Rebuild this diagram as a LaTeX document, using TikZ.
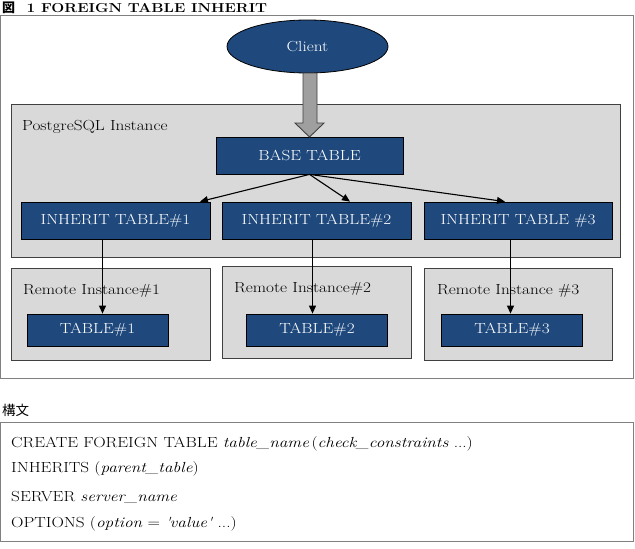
\documentclass[tikz,border=0pt]{standalone}
\usepackage{fontspec}
\setmainfont{Latin Modern Roman}[FakeStretch=1.18]
\newfontfamily\cjk{Noto Sans CJK JP}
\usetikzlibrary{arrows.meta,calc,shapes.geometric}
\definecolor{dblue}{HTML}{1F497D}
\definecolor{lgray}{HTML}{D9D9D9}
\definecolor{bord}{HTML}{404040}
\newcommand\txtsize{\fontsize{14.6}{17}\selectfont}
\tikzset{
  bluebox/.style={draw=black,line width=0.8pt,fill=dblue,text=white,font=\txtsize,inner sep=0pt},
  graybox/.style={draw=bord,line width=0.9pt,fill=lgray},
  lbl/.style={anchor=base west,font=\txtsize,inner sep=0pt},
  arr/.style={line width=1.1pt,-{Triangle[length=8pt,width=7pt]}},
  syn/.style={anchor=base west,font=\txtsize,inner sep=0pt}
}
\begin{document}
\begin{tikzpicture}[x=1pt,y=-1pt]
\useasboundingbox (0,0) rectangle (635,549);
% title
\node[anchor=base west,inner sep=0pt,font=\fontsize{13}{15}\selectfont\bfseries] (title) at (2,12) {{\cjk 図}\ \ 1 FOREIGN TABLE INHERIT};
% outer frame
\draw[draw=gray,line width=0.9pt] (0.5,15) rectangle (633,378);
% PostgreSQL instance
\draw[graybox] (11,104) rectangle (620,257);
\node[lbl] (pglbl) at (22,130) {PostgreSQL Instance};
% remote instances
\draw[graybox] (11,268) rectangle (210,360);
\draw[graybox] (222,266) rectangle (411,358);
\draw[graybox] (424,268) rectangle (612,360);
\node[lbl] (r1lbl) at (23,294) {Remote Instance\#1};
\node[lbl] (r2lbl) at (234,292) {Remote Instance\#2};
\node[lbl] (r3lbl) at (437,294) {Remote Instance \#3};
% client
\node[ellipse,draw=black,line width=0.8pt,fill=dblue,text=white,minimum width=161pt,minimum height=53pt,inner sep=0pt,font=\txtsize] (client) at (307.5,46.5) {Client};
% base table
\node[bluebox,minimum width=187pt,minimum height=37pt] (base) at (309.5,155.5) {BASE TABLE};
% big arrow
\draw[draw=bord,line width=0.9pt,fill=gray!75] (303,73) -- (317,73) -- (317,123) -- (324,123) -- (309.5,137) -- (295,123) -- (303,123) -- cycle;
% inherit tables
\node[bluebox,minimum width=189pt,minimum height=37pt] (inh1) at (115.5,220.5) {INHERIT TABLE\#1};
\node[bluebox,minimum width=189pt,minimum height=37pt] (inh2) at (316.5,220.5) {INHERIT TABLE\#2};
\node[bluebox,minimum width=188pt,minimum height=37pt] (inh3) at (518,220.5) {INHERIT TABLE \#3};
% remote tables
\node[bluebox,minimum width=141pt,minimum height=32pt] (t1) at (97.5,330) {TABLE\#1};
\node[bluebox,minimum width=141pt,minimum height=32pt] (t2) at (317,330) {TABLE\#2};
\node[bluebox,minimum width=141pt,minimum height=32pt] (t3) at (512,330) {TABLE\#3};
% arrows base -> inherit
\draw[arr] (base.south) -- ($(inh1.north)+(84.5,0)$);
\draw[arr] (base.south) -- ($(inh2.north)+(33.5,0)$);
\draw[arr] (base.south) -- ($(inh3.north)+(-13,0)$);
% arrows inherit -> tables
\draw[arr] ($(inh1.south)+(-13,0)$) coordinate (s1) -- (s1 |- t1.north);
\draw[arr] ($(inh2.south)+(-4,0)$) coordinate (s2) -- (s2 |- t2.north);
\draw[arr] ($(inh3.south)+(-7.5,0)$) coordinate (s3) -- (s3 |- t3.north);
% syntax
\node[anchor=base west,inner sep=0pt,font=\cjk\fontsize{13.5}{15}\selectfont] (kobun) at (2,415) {構文};
\draw[draw=gray,line width=0.9pt] (0.5,422) rectangle (633,541);
\node[syn] (l1) at (11,447) {CREATE FOREIGN TABLE \textit{table\_name}\,(\textit{check\_constraints} ...)};
\node[syn] (l2) at (11,472) {INHERITS (\textit{parent\_table})};
\node[syn] (l3) at (11,501) {SERVER \textit{server\_name}};
\node[syn] (l4) at (11,527) {OPTIONS (\textit{option} = \textit{\textquotesingle value\textquotesingle} ...)};
\end{tikzpicture}
\end{document}
